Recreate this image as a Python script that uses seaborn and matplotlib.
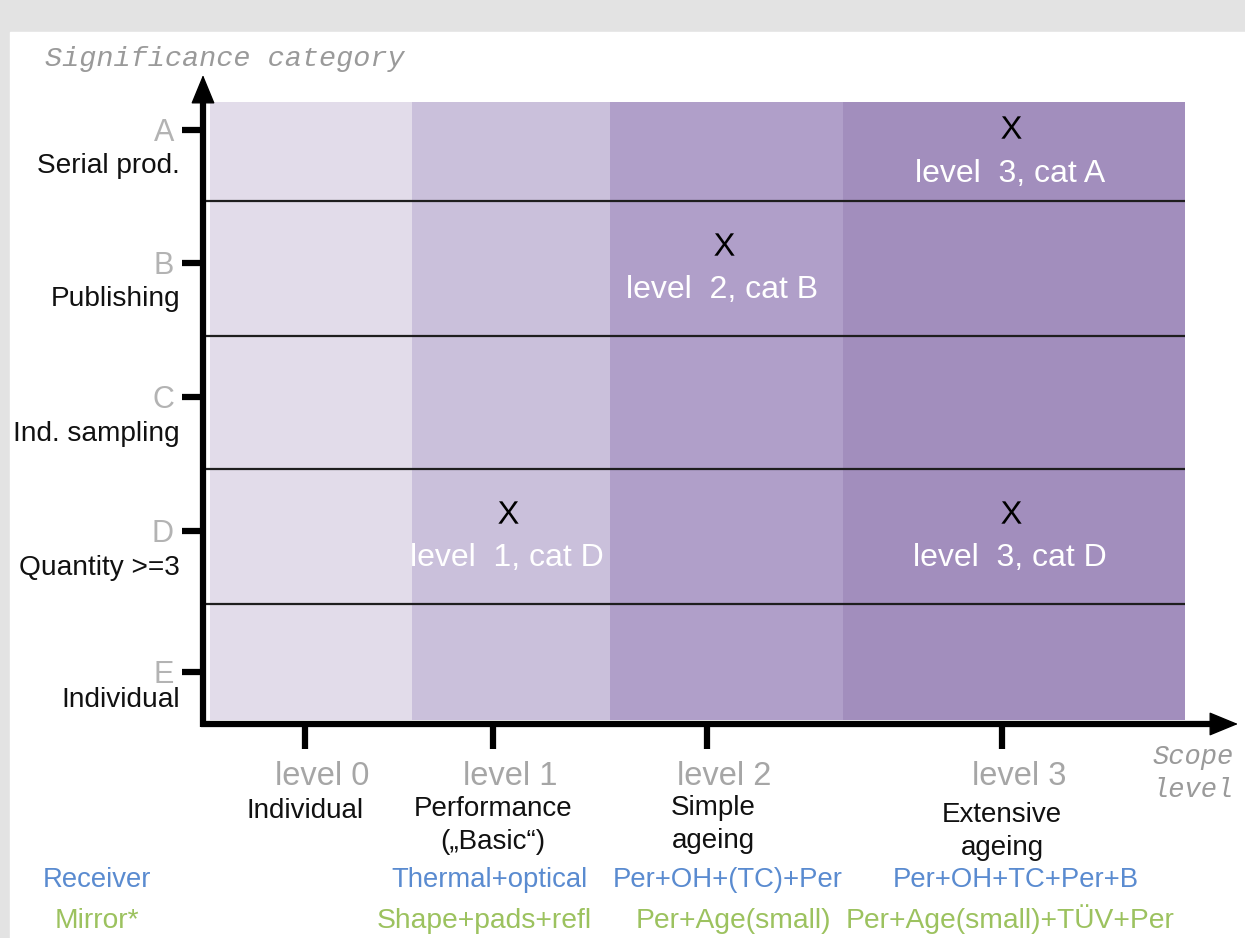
import matplotlib
matplotlib.use("Agg")
import matplotlib.pyplot as plt
import seaborn as sns
import pandas as pd
from matplotlib.patches import Rectangle

# chart content
levels = ["level 0", "level 1", "level 2", "level 3"]
level_names = ["Individual", "Performance\n(\u201eBasic\u201c)", "Simple\nageing", "Extensive\nageing"]
receiver_tests = ["", "Thermal+optical", "Per+OH+(TC)+Per", "Per+OH+TC+Per+B"]
mirror_tests = ["", "Shape+pads+refl", "Per+Age(small)", "Per+Age(small)+T\u00dcV+Per"]
categories = ["A", "B", "C", "D", "E"]
category_names = ["Serial prod.", "Publishing", "Ind. sampling", "Quantity >=3", "Individual"]
marked_levels = ["level 3", "level 2", "level 1", "level 3"]
marked_cats = ["A", "B", "D", "D"]

# layout (canvas pixels)
col_edges = [210, 412, 610, 843, 1185]
row_edges = [102, 201, 336, 469, 604, 720]
level_ticks = [305, 493, 707, 1002]
cat_ticks = [130, 263, 397, 531, 672]
name_base = [173, 306, 441, 575, 707]
desc_x = [305, 493, 713, 1002]
desc_base = [818, 816, 815, 822]
receiver_x = [0, 490, 728, 1016]
mirror_x = [0, 484, 733, 1010]
band_colors = ["#e2dcea", "#cac0db", "#b09fc9", "#a28ebd"]
blue = "#5a8bd0"
green = "#9cc25f"

sns.set_style("white")
plt.rcParams["font.family"] = ["Liberation Sans", "DejaVu Sans"]
plt.rcParams["mathtext.fontset"] = "custom"
plt.rcParams["mathtext.rm"] = "Liberation Sans"

fig = plt.figure(figsize=(12.45, 9.38), dpi=100, facecolor="#e3e3e3")
fig.patches.append(Rectangle((10 / 1245, 0), 1, (938 - 32) / 938,
                             transform=fig.transFigure, color="white", zorder=-1))
ax = fig.add_axes([0, 0, 1, 1])
ax.patch.set_alpha(0)


def lines_at(x, y, text, step=33, **kw):
    # one text per line, y is the first baseline
    for k, line in enumerate(text.split("\n")):
        ax.text(x, y + k * step, line, va="baseline", **kw)


# scope bands and category separators
for i, c in enumerate(band_colors):
    ax.add_patch(Rectangle((col_edges[i], row_edges[0]), col_edges[i + 1] - col_edges[i],
                           row_edges[-1] - row_edges[0], color=c, lw=0, zorder=1))
ax.hlines(row_edges[1:-1], 206, col_edges[-1], color="#1e1e1e", lw=1.6, zorder=2)

col_mid = [(col_edges[i] + col_edges[i + 1]) / 2 for i in range(len(levels))]
row_mid = [(row_edges[i] + row_edges[i + 1]) / 2 for i in range(len(categories))]

# axes with arrows
ax.plot([203, 203], [727, 98], color="black", lw=4.5, solid_capstyle="butt", zorder=3)
ax.plot([201, 1215], [724, 724], color="black", lw=4.5, solid_capstyle="butt", zorder=3)
ax.annotate("", xy=(203, 75), xytext=(203, 103),
            arrowprops=dict(arrowstyle="-|>,head_width=0.35,head_length=0.85",
                            color="black", lw=1, shrinkA=0, shrinkB=0, mutation_scale=22))
ax.annotate("", xy=(1238, 724), xytext=(1210, 724),
            arrowprops=dict(arrowstyle="-|>,head_width=0.35,head_length=0.85",
                            color="black", lw=1, shrinkA=0, shrinkB=0, mutation_scale=22))
ax.hlines(cat_ticks, 182, 203, color="black", lw=4.5, zorder=3)
ax.vlines(level_ticks, 724, 749, color="black", lw=4.5, zorder=3)

mono = ["Liberation Mono", "DejaVu Sans Mono"]
ax.text(45, 66, "Significance category", family=mono, style="italic",
        fontsize=20.5, color="#9a9a9a", ha="left", va="baseline")
lines_at(1234, 764, "Scope\nlevel", step=33, family=mono, style="italic",
         fontsize=19.5, color="#9a9a9a", ha="right")

# category labels
for i, cat in enumerate(categories):
    ax.text(174, cat_ticks[i] + 11, cat, fontsize=22, color="#b3b3b3", ha="right", va="baseline")
    ax.text(180, name_base[i], category_names[i], fontsize=20.2, color="#111111",
            ha="right", va="baseline")

# level labels and test programmes
for i, lev in enumerate(levels):
    ax.text(level_ticks[i] + 17, 785, lev, fontsize=23.5, color="#a6a6a6",
            ha="center", va="baseline")
    lines_at(desc_x[i], desc_base[i], level_names[i], fontsize=20,
             color="#111111", ha="center")
    ax.text(receiver_x[i], 887, receiver_tests[i], fontsize=19.8, color=blue,
            ha="center", va="baseline")
    ax.text(mirror_x[i], 928, mirror_tests[i], fontsize=20.3, color=green,
            ha="center", va="baseline")

ax.text(43, 887, "Receiver", fontsize=19.8, color=blue, ha="left", va="baseline")
ax.text(55, 928, "Mirror*", fontsize=20.3, color=green, ha="left", va="baseline")

# marked cells
marks = pd.DataFrame({
    "x": [col_mid[levels.index(l)] - 3 for l in marked_levels],
    "y": [row_mid[categories.index(c)] - 24 for c in marked_cats],
})
sns.scatterplot(data=marks, x="x", y="y", marker=r"$\mathrm{X}$", s=260,
                color="black", edgecolor="black", linewidth=0, legend=False, ax=ax, zorder=4)
for lev, cat in zip(marked_levels, marked_cats):
    ax.text(col_mid[levels.index(lev)] - 4, row_mid[categories.index(cat)] + 30,
            f"{lev.replace(' ', '  ')}, cat {cat}", fontsize=23, color="white",
            ha="center", va="baseline", zorder=4)

ax.set_xlim(0, 1245)
ax.set_ylim(938, 0)
ax.axis("off")

fig.savefig("out.png", dpi=100, facecolor=fig.get_facecolor())
